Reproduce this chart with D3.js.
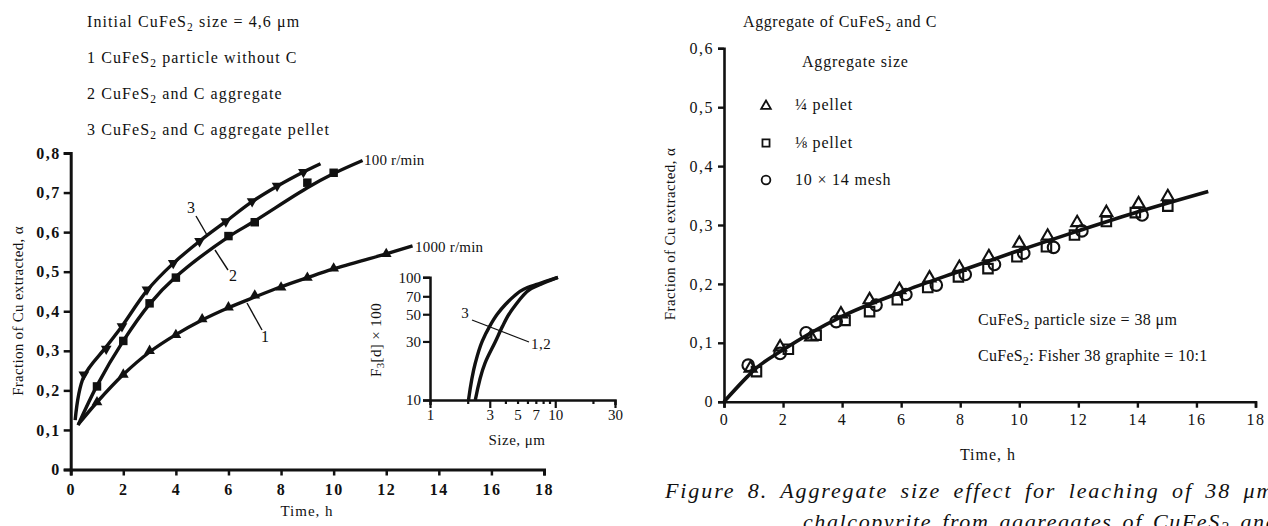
<!DOCTYPE html>
<html><head><meta charset="utf-8">
<script src="https://cdn.jsdelivr.net/npm/d3@7"></script>
<style>
html,body{margin:0;padding:0;background:#fff;}
svg{display:block;}
text{font-family:"Liberation Serif","DejaVu Serif",serif;fill:#111;}
</style></head>
<body><svg id="c" width="1268" height="526"></svg>
<script>
// ---------- DATA ----------
// Left chart (Time, h vs Fraction extracted)
const leftXTicks = [0,2,4,6,8,10,12,14,16,18];
const leftYTicks = [0,0.1,0.2,0.3,0.4,0.5,0.6,0.7,0.8];
const c1T = [1,2,3,4,5,6,7,8,9,10,12];
const c1V = [0.17,0.24,0.30,0.34,0.38,0.41,0.44,0.46,0.485,0.508,0.545];
const c1LineT = [0.3,1,2,3,4,5,6,7,8,9,10,12,13];
const c1LineV = [0.115,0.17,0.24,0.297,0.341,0.378,0.409,0.436,0.462,0.485,0.507,0.545,0.565];
const c2T = [1,2,3,4,6,7,9,10];
const c2V = [0.21,0.325,0.42,0.485,0.59,0.625,0.725,0.75];
const c2LineT = [0.28,1,2,3,4,6,7,9,10,11.1];
const c2LineV = [0.112,0.212,0.325,0.418,0.487,0.588,0.628,0.712,0.748,0.781];
const c3T = [0.5,1.35,1.95,2.9,3.9,4.9,5.9,6.9,7.85,8.85];
const c3V = [0.24,0.305,0.362,0.455,0.522,0.577,0.627,0.678,0.717,0.752];
const c3LineT = [0.17,0.5,1.35,1.95,2.9,3.9,4.9,5.9,6.9,7.85,8.85,9.5];
const c3LineV = [0.125,0.235,0.31,0.362,0.452,0.521,0.577,0.627,0.677,0.716,0.752,0.773];
// Inset (Size, um vs F3[d] x 100, log-log)
const insetXTickVals = [1,2,3,4,5,6,7,8,9,10,20,30];
const insetXLabels = [1,3,5,7,10,30];
const insetYTicks = [10,30,50,70,100];
const inset3Size = [2.03,2.3,2.61,3.0,3.44,4.0,4.68,5.6,7.0,8.5,10.5];
const inset3F    = [10,20,30,40,50,60,70,80,87,93,100];
const inset12Size= [2.3,2.75,3.33,3.8,4.27,4.85,5.47,6.3,7.68,9.0,10.5];
const inset12F   = [10,20,30,40,50,60,70,80,88,94,100];
// Right chart
const rightXTicks = [0,2,4,6,8,10,12,14,16,18];
const rightYTicks = [0,0.1,0.2,0.3,0.4,0.5,0.6];
const fitT = [0,0.8,1,2,4,6,8,10,12,14,16.4];
const fitV = [0,0.043,0.053,0.088,0.145,0.186,0.222,0.257,0.29,0.322,0.357];
const quarterT = [0.9,1.9,2.95,3.96,4.93,5.94,6.96,7.97,8.97,10.0,10.96,11.96,12.95,14.04,15.03];
const quarterV = [0.057,0.093,0.11,0.149,0.173,0.19,0.21,0.228,0.246,0.269,0.281,0.304,0.321,0.336,0.348];
const eighthT = [1.1,2.18,3.12,4.1,4.93,5.87,6.9,7.94,8.94,9.92,10.92,11.87,12.95,13.93,15.03];
const eighthV = [0.051,0.089,0.113,0.138,0.153,0.173,0.194,0.212,0.226,0.246,0.263,0.283,0.306,0.321,0.332];
const meshT = [0.82,1.9,2.78,3.8,5.15,6.16,7.19,8.17,9.16,10.15,11.16,12.12,14.16];
const meshV = [0.062,0.082,0.117,0.136,0.164,0.182,0.198,0.216,0.233,0.252,0.262,0.29,0.317];

// ---------- DRAW ----------
const svg = d3.select("#c");
svg.append("rect").attr("width",1268).attr("height",526).attr("fill","#fff");
const fmt = d => (d===0?"0":d3.format(".1f")(d).replace(".",","));
const zip = (a,b)=>a.map((v,i)=>[v,b[i]]);

// rich text: segments are strings or {sub:"2"}
function rich(sel, segs){
  let pendingUp = false;
  segs.forEach(s=>{
    if(typeof s==="string"){
      const t = sel.append("tspan").text(s);
      if(pendingUp){ t.attr("dy",-4); pendingUp=false; }
    } else {
      sel.append("tspan").attr("dy",4).attr("font-size","0.72em").text(s.sub);
      pendingUp = true;
    }
  });
  return sel;
}
function txt(x,y,segs,size,extra){
  extra = extra||{};
  const t = svg.append("text").attr("x",x).attr("y",y).attr("font-size",size)
    .attr("letter-spacing", extra.ls!==undefined ? extra.ls : 0.8);
  if(extra.anchor) t.attr("text-anchor",extra.anchor);
  if(extra.weight) t.attr("font-weight",extra.weight);
  if(extra.ws) t.attr("word-spacing",extra.ws);
  return rich(t,segs);
}

// ---- LEFT CHART ----
const x1 = d3.scaleLinear().domain([0,18]).range([70.7,544]);
const y1 = d3.scaleLinear().domain([0,0.8]).range([469.5,153]);
const gL = svg.append("g");
const axX1 = gL.append("g").attr("transform","translate(0,469.5)")
  .call(d3.axisBottom(x1).tickValues(leftXTicks).tickFormat(d3.format("d")).tickSizeInner(6).tickSizeOuter(6).tickPadding(8));
const axY1 = gL.append("g").attr("transform","translate(70.7,0)")
  .call(d3.axisLeft(y1).tickValues(leftYTicks).tickFormat(fmt).tickSizeInner(7).tickSizeOuter(7).tickPadding(3));
[axX1,axY1].forEach(a=>{
  a.select(".domain").attr("stroke","#111").attr("stroke-width",3);
  a.selectAll(".tick line").attr("stroke","#111").attr("stroke-width",2.5);
  a.selectAll(".tick text").attr("font-family","Liberation Serif").attr("font-size",16).attr("font-weight","bold").attr("fill","#111").attr("letter-spacing",1.5);
});

const lineL = d3.line().x(d=>x1(d[0])).y(d=>y1(d[1])).curve(d3.curveCatmullRom.alpha(0.5));
[[c1LineT,c1LineV],[c2LineT,c2LineV],[c3LineT,c3LineV]].forEach(([t,v])=>{
  gL.append("path").attr("d",lineL(zip(t,v))).attr("fill","none").attr("stroke","#111").attr("stroke-width",3.4);
});
const triUp = d3.symbol().type(d3.symbolTriangle).size(50);
const sq = d3.symbol().type(d3.symbolSquare).size(72);
gL.selectAll(".m1").data(zip(c1T,c1V)).join("path").attr("d",triUp())
  .attr("transform",d=>`translate(${x1(d[0])},${y1(d[1])})`).attr("fill","#111");
gL.selectAll(".m2").data(zip(c2T,c2V)).join("path").attr("d",sq())
  .attr("transform",d=>`translate(${x1(d[0])},${y1(d[1])})`).attr("fill","#111");
gL.selectAll(".m3").data(zip(c3T,c3V)).join("path").attr("d",triUp())
  .attr("transform",d=>`translate(${x1(d[0])},${y1(d[1])}) rotate(180)`).attr("fill","#111");

// curve number labels and leaders
const leaders = [[196,216,207,235],[215,250,228,270],[247,303,262,330]];
leaders.forEach(l=>gL.append("line").attr("x1",l[0]).attr("y1",l[1]).attr("x2",l[2]).attr("y2",l[3]).attr("stroke","#111").attr("stroke-width",1.4));
txt(191,213,["3"],16,{anchor:"middle",ls:0});
txt(233,281,["2"],16,{anchor:"middle",ls:0});
txt(265,342,["1"],16,{anchor:"middle",ls:0});
txt(364,165,["100 r/min"],15,{ls:0.2});
txt(415,252,["1000 r/min"],15,{ls:0.2});

// axis titles
txt(307,516,["Time,  h"],15,{anchor:"middle",ls:1});
svg.append("text").attr("transform","translate(23,311) rotate(-90)").attr("text-anchor","middle")
  .attr("font-size",15).attr("letter-spacing",0.3).text("Fraction of Cu extracted, α");

// header text
txt(87,27,["Initial CuFeS",{sub:"2"}," size = 4,6 μm"],16,{ls:1.1});
txt(87,63,["1  CuFeS",{sub:"2"}," particle  without  C"],16,{ls:1.1});
txt(87,99,["2  CuFeS",{sub:"2"}," and  C aggregate"],16,{ls:1.1});
txt(87,135,["3  CuFeS",{sub:"2"}," and  C  aggregate  pellet"],16,{ls:1.1});

// ---- INSET ----
const xi = d3.scaleLog().domain([1,30]).range([430,615]);
const yi = d3.scaleLog().domain([10,100]).range([400,277.3]);
const gI = svg.append("g");
const axXi = gI.append("g").attr("transform","translate(0,400)")
  .call(d3.axisBottom(xi).tickValues(insetXTickVals).tickFormat(d=>insetXLabels.includes(d)?d:"").tickSizeOuter(0).tickSize(5).tickPadding(4));
axXi.selectAll(".tick line").attr("y2",d=>[1,3,10,30].includes(d)?8:4);
const axYi = gI.append("g").attr("transform","translate(430,0)")
  .call(d3.axisLeft(yi).tickValues(insetYTicks).tickFormat(d3.format("d")).tickSizeOuter(0).tickSize(7).tickPadding(2));
[axXi,axYi].forEach(a=>{
  a.select(".domain").attr("stroke","#111").attr("stroke-width",2.5);
  a.selectAll(".tick line").attr("stroke","#111").attr("stroke-width",2.2);
  a.selectAll(".tick text").attr("font-family","Liberation Serif").attr("font-size",15).attr("fill","#111");
});
const lineI = d3.line().x(d=>xi(d[0])).y(d=>yi(d[1])).curve(d3.curveMonotoneY);
[[inset3Size,inset3F],[inset12Size,inset12F]].forEach(([s,f])=>{
  gI.append("path").attr("d",lineI(zip(s,f))).attr("fill","none").attr("stroke","#111").attr("stroke-width",3.4);
});
gI.append("line").attr("x1",472).attr("y1",320).attr("x2",529).attr("y2",342).attr("stroke","#111").attr("stroke-width",1.3);
txt(465,318,["3"],15,{anchor:"middle",ls:0});
txt(531,349,["1,2"],15,{ls:0.5});
txt(517,445,["Size,  μm"],15,{anchor:"middle",ls:0.5});
const fl = svg.append("text").attr("transform","translate(381,340) rotate(-90)").attr("text-anchor","middle").attr("font-size",15).attr("letter-spacing",0.4);
fl.append("tspan").text("F");
fl.append("tspan").attr("dy",3).attr("font-size","0.72em").text("3");
fl.append("tspan").attr("dy",-3).text("[d] × 100");

// ---- RIGHT CHART ----
const x2 = d3.scaleLinear().domain([0,18]).range([724,1255.5]);
const y2 = d3.scaleLinear().domain([0,0.6]).range([401.7,48.3]);
const gR = svg.append("g");
const axX2 = gR.append("g").attr("transform","translate(0,401.7)")
  .call(d3.axisBottom(x2).tickValues(rightXTicks).tickFormat(d3.format("d")).tickSizeInner(6).tickSizeOuter(6).tickPadding(6));
const axY2 = gR.append("g").attr("transform","translate(724,0)")
  .call(d3.axisLeft(y2).tickValues(rightYTicks).tickFormat(fmt).tickSizeInner(6).tickSizeOuter(6).tickPadding(4));
[axX2,axY2].forEach(a=>{
  a.select(".domain").attr("stroke","#111").attr("stroke-width",2.6);
  a.selectAll(".tick line").attr("stroke","#111").attr("stroke-width",2.4);
  a.selectAll(".tick text").attr("font-family","Liberation Serif").attr("font-size",16).attr("fill","#111").attr("letter-spacing",1.5);
});
const lineR = d3.line().x(d=>x2(d[0])).y(d=>y2(d[1])).curve(d3.curveMonotoneX);
gR.append("path").attr("d",lineR(zip(fitT,fitV))).attr("fill","none").attr("stroke","#111").attr("stroke-width",3.6);
const oTri = d3.symbol().type(d3.symbolTriangle).size(62);
const oSq = d3.symbol().type(d3.symbolSquare).size(90);
const oCir = d3.symbol().type(d3.symbolCircle).size(105);
function openMarks(T,V,sym){
  gR.append("g").selectAll("path").data(zip(T,V)).join("path").attr("d",sym())
    .attr("transform",d=>`translate(${x2(d[0])},${y2(d[1])})`)
    .attr("fill","none").attr("stroke","#111").attr("stroke-width",2.1);
}
openMarks(meshT,meshV,oCir);
openMarks(eighthT,eighthV,oSq);
openMarks(quarterT,quarterV,oTri);

// legend
txt(743,27,["Aggregate of CuFeS",{sub:"2"}," and C"],16,{ls:0.6});
txt(802,67,["Aggregate  size"],16,{ls:0.8});
const lTri = d3.symbol().type(d3.symbolTriangle).size(40);
const lSq = d3.symbol().type(d3.symbolSquare).size(50);
const lCir = d3.symbol().type(d3.symbolCircle).size(60);
[[lTri,106],[lSq,143],[lCir,180]].forEach(([s,y])=>{
  svg.append("path").attr("d",s()).attr("transform",`translate(766,${y})`).attr("fill","none").attr("stroke","#111").attr("stroke-width",1.8);
});
txt(795,110,["¼ pellet"],16,{ls:0.8});
txt(795,148,["⅛ pellet"],16,{ls:0.8});
txt(795,185,["10 × 14  mesh"],16,{ls:0.8});

txt(978,325,["CuFeS",{sub:"2"}," particle size = 38 μm"],16,{ls:0.4});
txt(978,361,["CuFeS",{sub:"2"},":  Fisher  38  graphite = 10:1"],16,{ls:0.3});

txt(988,460,["Time,  h"],16,{anchor:"middle",ls:1});
svg.append("text").attr("transform","translate(675,234) rotate(-90)").attr("text-anchor","middle")
  .attr("font-size",15).attr("letter-spacing",0.4).text("Fraction of Cu extracted, α");

// caption
svg.append("text").attr("x",665).attr("y",498).attr("font-size",22).attr("font-style","italic")
  .attr("letter-spacing",1.9).attr("word-spacing",5).text("Figure  8.  Aggregate size effect for leaching of 38 μm");
const cap2 = svg.append("text").attr("x",803).attr("y",529).attr("font-size",22).attr("font-style","italic")
  .attr("letter-spacing",1.6).attr("word-spacing",3);
cap2.append("tspan").text("chalcopyrite from aggregates of CuFeS");
cap2.append("tspan").attr("dy",4).attr("font-size","0.72em").text("2");
cap2.append("tspan").attr("dy",-4).text(" and C");
</script></body></html>
